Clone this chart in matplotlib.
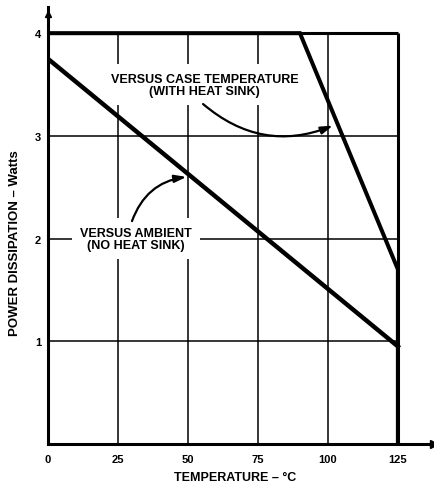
import matplotlib.pyplot as plt

# data
case_temp = [0, 90, 125, 125]
case_power = [4.0, 4.0, 1.7, 0.0]
ambient_temp = [0, 125]
ambient_power = [3.75, 0.95]

x_ticks = [0, 25, 50, 75, 100, 125]
x_tick_labels = ["0", "25", "50", "75", "100", "125"]
y_ticks = [1, 2, 3, 4]
y_tick_labels = ["1", "2", "3", "4"]
grid_x = [25, 50, 75, 100]
grid_y = [1, 2, 3]

font = "Liberation Sans"

fig = plt.figure(figsize=(4.34, 4.85), dpi=100)
ax = fig.add_axes([0.1106, 0.0825, 0.8894, 0.9])
ax.set_xlim(0, 137.9)
ax.set_ylim(0, 4.25)

# grid and frame
ax.vlines(grid_x, 0, 4, color="black", lw=1.1, zorder=1)
ax.hlines(grid_y, 0, 125, color="black", lw=1.1, zorder=1)
ax.hlines(4, 0, 125, color="black", lw=2.2, zorder=1)
ax.vlines(125, 0, 4, color="black", lw=2.2, zorder=1)

# curves
ax.plot(case_temp, case_power, color="black", lw=2.9, zorder=3,
        solid_joinstyle="miter")
ax.plot(ambient_temp, ambient_power, color="black", lw=3.2, zorder=3)

# axes with arrows
for side in ["top", "right"]:
    ax.spines[side].set_visible(False)
for side in ["left", "bottom"]:
    ax.spines[side].set_linewidth(2.2)
ax.plot(1, 0, ">k", transform=ax.get_yaxis_transform(), clip_on=False, ms=6)
ax.plot(0, 0.985, "^k", transform=ax.get_xaxis_transform(), clip_on=False, ms=5)

ax.set_xticks(x_ticks)
ax.set_xticklabels(x_tick_labels)
ax.set_yticks(y_ticks)
ax.set_yticklabels(y_tick_labels)
ax.tick_params(length=0, labelsize=8)
ax.tick_params(axis="x", pad=7)
ax.tick_params(axis="y", pad=5)
for lab in ax.get_xticklabels() + ax.get_yticklabels():
    lab.set_fontfamily(font)
    lab.set_fontweight("bold")

ax.set_xlabel("TEMPERATURE – °C", family=font, weight="bold", fontsize=9)
ax.xaxis.set_label_coords(0.485, -0.061)
ax.set_ylabel("POWER DISSIPATION – Watts", family=font, weight="bold", fontsize=9.5)
ax.yaxis.set_label_coords(-0.07, 0.463)

# labels with white boxes that break the grid
box = dict(boxstyle="square,pad=0.65", fc="white", ec="none")
ax.text(56, 3.5, "VERSUS CASE TEMPERATURE\n(WITH HEAT SINK)", ha="center",
        va="center", multialignment="center", family=font, weight="bold",
        fontsize=9, linespacing=1.0, bbox=box, zorder=2)
ax.text(31.4, 2.0, "VERSUS AMBIENT\n(NO HEAT SINK)", ha="center",
        va="center", multialignment="center", family=font, weight="bold",
        fontsize=9, linespacing=1.0, bbox=box, zorder=2)

arrow = dict(arrowstyle="-|>,head_length=0.7,head_width=0.22", color="black",
             lw=1.6, shrinkA=0, shrinkB=0)
ax.annotate("", xy=(101.8, 3.1), xytext=(55.4, 3.31),
            arrowprops=dict(arrow, connectionstyle="arc3,rad=0.3"), zorder=4)
ax.annotate("", xy=(49.5, 2.6), xytext=(30, 2.17),
            arrowprops=dict(arrow, connectionstyle="arc3,rad=-0.3"), zorder=4)

fig.savefig("out.png", dpi=100)
